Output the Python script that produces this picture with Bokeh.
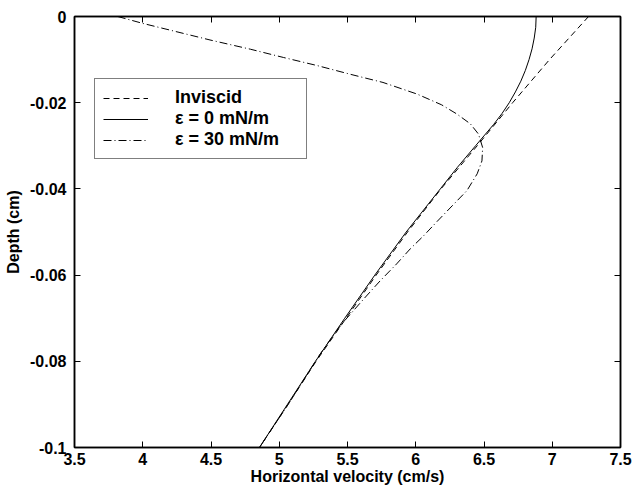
from bokeh.plotting import figure
from bokeh.models import Range1d, FixedTicker, LinearAxis, Legend, LegendItem, CustomJSTickFormatter
from bokeh.embed import file_html
from bokeh.resources import INLINE

# ---- data ----
inv_depth = [0.0, -0.01, -0.02, -0.03, -0.04, -0.05, -0.06, -0.07, -0.08, -0.09, -0.1]
inv_vel = [7.266, 6.98, 6.71, 6.45, 6.185, 5.94, 5.71, 5.49, 5.27, 5.065, 4.855]

eps0_depth = [0.0, -0.0025, -0.005, -0.0075, -0.01, -0.0125, -0.015, -0.0175, -0.02,
              -0.0225, -0.025, -0.0275, -0.03, -0.035, -0.04, -0.05, -0.06, -0.07, -0.08, -0.09, -0.1]
eps0_vel = [6.882, 6.879, 6.868, 6.852, 6.83, 6.803, 6.77, 6.73, 6.685,
            6.632, 6.572, 6.505, 6.438, 6.305, 6.18, 5.93, 5.70, 5.48, 5.265, 5.06, 4.855]

eps30_depth = [0.0, -0.0016, -0.0055, -0.0076, -0.0095, -0.0114, -0.0134, -0.0153, -0.018,
               -0.0205, -0.0226, -0.0249, -0.0273, -0.0304, -0.0335, -0.0365, -0.0404,
               -0.0435, -0.0476, -0.0509, -0.0539, -0.0574, -0.0613, -0.0655, -0.0682,
               -0.0709, -0.0729, -0.0745, -0.0783, -0.09, -0.1]
eps30_vel = [3.817, 4.0, 4.5, 4.79, 5.03, 5.28, 5.52, 5.76, 6.01,
             6.19, 6.30, 6.40, 6.46, 6.49, 6.485, 6.45, 6.375,
             6.28, 6.155, 6.057, 5.96, 5.86, 5.74, 5.62, 5.545,
             5.47, 5.42, 5.385, 5.30, 5.065, 4.855]

x_ticks = [3.5, 4.0, 4.5, 5.0, 5.5, 6.0, 6.5, 7.0, 7.5]
x_tick_labels = ["3.5", "4", "4.5", "5", "5.5", "6", "6.5", "7", "7.5"]
y_ticks = [0.0, -0.02, -0.04, -0.06, -0.08, -0.1]
y_tick_labels = ["0", "-0.02", "-0.04", "-0.06", "-0.08", "-0.1"]

legend_labels = ["Inviscid", "\u03b5 = 0 mN/m", "\u03b5 = 30 mN/m"]
x_title = "Horizontal velocity (cm/s)"
y_title = "Depth (cm)"

FONT = "Liberation Sans"

p = figure(width=633, height=489, output_backend="svg", toolbar_location=None,
           x_range=Range1d(3.5, 7.5), y_range=Range1d(-0.1, 0.0),
           min_border_left=74, min_border_right=13, min_border_top=16, min_border_bottom=42,
           x_axis_label=x_title, y_axis_label=y_title)
p.background_fill_color = "white"
p.border_fill_color = "white"
p.xgrid.visible = False
p.ygrid.visible = False
p.outline_line_color = "black"
p.outline_line_width = 1.5

r_inv = p.line(inv_vel, inv_depth, line_color="black", line_width=1, line_dash="6 4")
r_0 = p.line(eps0_vel, eps0_depth, line_color="black", line_width=1)
r_30 = p.line(eps30_vel, eps30_depth, line_color="black", line_width=1, line_dash="8 3 1 3")

def style_axis(ax, ticks, labels=None):
    ax.ticker = FixedTicker(ticks=ticks)
    ax.minor_tick_line_color = None
    ax.major_tick_in = 6
    ax.major_tick_out = 0
    ax.major_tick_line_color = "black"
    ax.major_tick_line_width = 1
    ax.axis_line_color = "black"
    ax.axis_line_width = 1.5
    ax.major_label_text_font = FONT
    ax.major_label_text_font_style = "bold"
    ax.major_label_text_font_size = "16px"
    ax.major_label_text_color = "black"
    ax.axis_label_text_font = FONT
    ax.axis_label_text_font_style = "bold"
    ax.axis_label_text_font_size = "16px"
    ax.axis_label_text_color = "black"
    if labels is not None:
        ax.major_label_overrides = {t: l for t, l in zip(ticks, labels)}

xa = p.xaxis[0]
ya = p.yaxis[0]
style_axis(xa, x_ticks, x_tick_labels)
style_axis(ya, y_ticks, y_tick_labels)
xa.major_label_standoff = 5
xa.axis_label_standoff = 0
ya.major_label_standoff = 8
ya.axis_label_standoff = 5

# top and right axes carry only inward ticks (box style), no labels
top = LinearAxis()
style_axis(top, x_ticks)
top.formatter = CustomJSTickFormatter(code="return ''")
top.major_label_text_font_size = "0px"
top.major_label_standoff = 0
right = LinearAxis()
style_axis(right, y_ticks)
right.formatter = CustomJSTickFormatter(code="return ''")
right.major_label_text_font_size = "0px"
right.major_label_standoff = 0
p.add_layout(top, "above")
p.add_layout(right, "right")

legend = Legend(items=[LegendItem(label=legend_labels[0], renderers=[r_inv]),
                       LegendItem(label=legend_labels[1], renderers=[r_0]),
                       LegendItem(label=legend_labels[2], renderers=[r_30])],
                location=(20, 288))
legend.label_text_font = FONT
legend.label_text_font_style = "bold"
legend.label_text_font_size = "18px"
legend.label_text_color = "black"
legend.glyph_width = 45
legend.glyph_height = 20
legend.label_height = 20
legend.label_width = 123
legend.label_standoff = 27
legend.spacing = 0
legend.padding = 8
legend.margin = 0
legend.border_line_color = "black"
legend.border_line_width = 1.5
legend.background_fill_color = "white"
legend.background_fill_alpha = 1
p.add_layout(legend)

html = file_html(p, INLINE)
open("out.html", "w").write(html)
